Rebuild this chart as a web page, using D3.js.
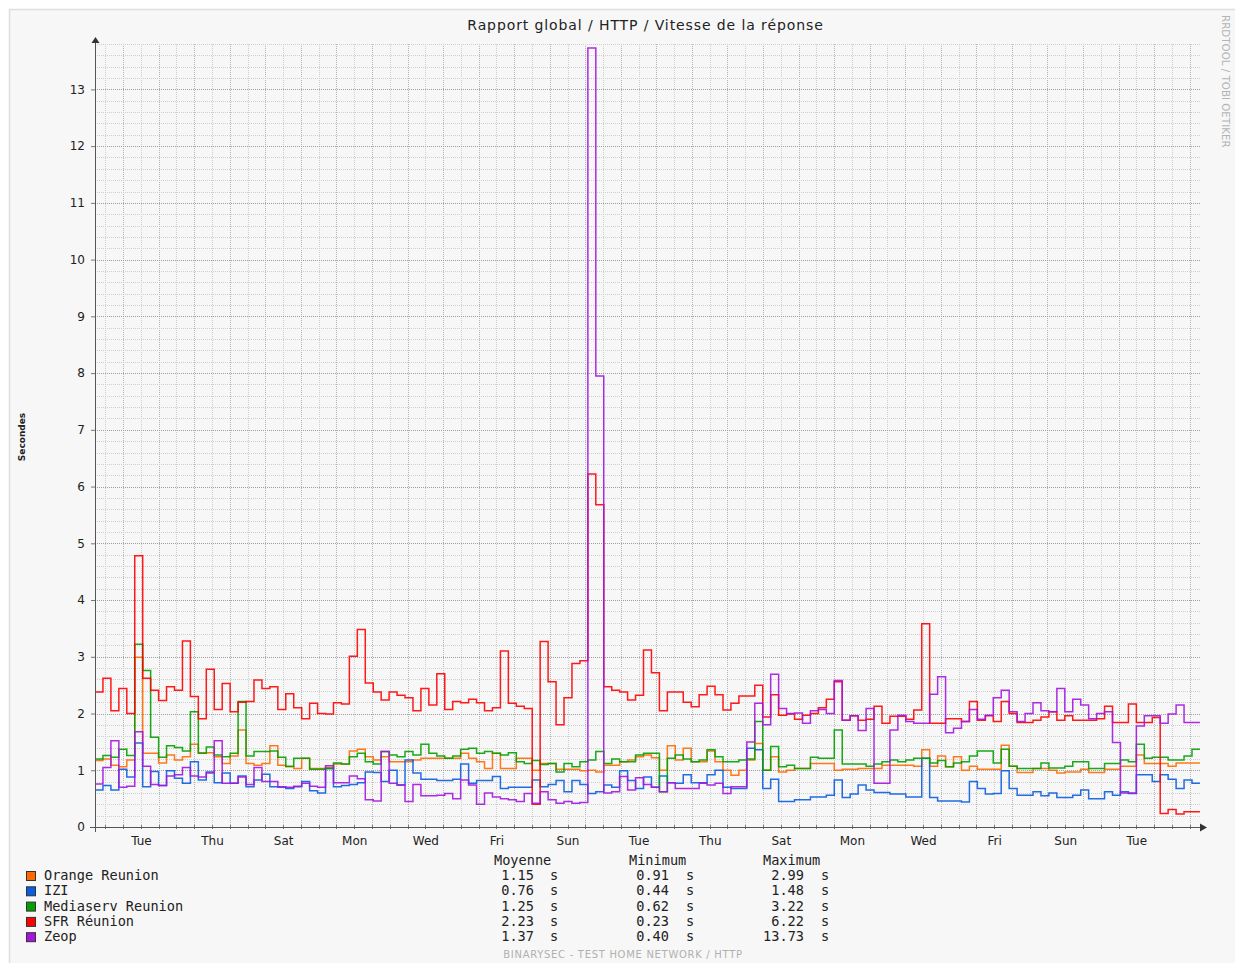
<!DOCTYPE html>
<html>
<head>
<meta charset="utf-8">
<script src="https://cdn.jsdelivr.net/npm/d3@7"></script>
<style>
  html, body { margin: 0; padding: 0; background: #fff; }
  svg { display: block; }
</style>
</head>
<body>
<div id="chart"></div>
<script>
// Valeurs (pas de 322 min à partir de startTime)
const startTime = new Date(2012, 11, 31, 5, 0);
const endTime = new Date(2013, 0, 31, 7, 0);
const stepMinutes = 322;

const seriesNames = ["Orange Reunion", "IZI", "Mediaserv Reunion", "SFR Réunion", "Zeop"];

const orange = [1.17,1.2,1.09,1.06,1.18,2.99,1.3,1.3,1.13,1.27,
  1.18,1.24,1.46,1.31,1.31,1.24,1.12,1.25,1.71,1.12,
  1.09,1.12,1.43,1.09,1.06,1.03,1.21,1.03,1.03,1.05,
  1.11,1.11,1.34,1.37,1.24,1.18,1.24,1.15,1.15,1.15,
  1.18,1.21,1.21,1.21,1.21,1.21,1.3,1.21,1.15,1.03,
  1.3,1.03,1.03,1.21,1.21,1.0,1.12,1.12,1.02,1.02,
  1.02,0.99,1.0,0.97,1.09,1.09,1.15,1.18,1.24,1.27,
  1.22,1.0,1.43,1.18,1.39,1.15,1.15,1.34,1.15,1.0,
  0.91,1.0,1.18,1.47,1.0,1.24,0.97,1.0,1.03,1.03,
  1.12,1.12,1.12,1.0,1.02,1.02,1.03,1.03,1.03,1.09,
  1.09,1.09,1.09,1.07,1.36,1.07,1.25,1.06,1.24,1.0,
  1.07,1.02,1.02,1.02,1.44,1.07,0.96,0.96,1.03,1.03,
  1.0,0.95,0.97,0.97,1.02,0.96,0.96,1.02,1.02,1.07,
  1.07,1.27,1.12,1.12,1.12,1.07,1.13,1.13,1.13];

const izi = [0.65,0.73,0.65,1.02,0.88,1.48,0.71,0.98,0.73,0.99,
  0.86,0.77,1.15,0.83,0.97,0.78,0.95,0.77,0.9,0.71,
  0.83,0.93,0.71,0.71,0.68,0.71,0.8,0.64,0.6,1.03,
  0.71,0.73,0.75,0.78,0.97,0.96,0.8,1.0,0.74,1.18,
  0.95,0.84,0.84,0.82,0.82,0.84,1.11,0.77,0.82,0.82,
  0.89,0.68,0.7,0.7,0.7,0.83,0.71,0.75,0.82,0.62,
  0.82,0.75,0.59,0.62,0.74,0.7,0.99,0.82,0.68,0.88,
  0.7,0.9,0.78,0.77,0.92,0.78,0.78,0.92,1.0,0.7,
  0.68,0.68,1.39,1.36,0.68,0.84,0.45,0.45,0.48,0.48,
  0.53,0.53,0.56,0.83,0.52,0.58,0.74,0.65,0.61,0.61,
  0.58,0.58,0.53,0.53,1.21,0.52,0.46,0.46,0.46,0.44,
  0.8,0.68,0.58,0.59,0.99,0.68,0.56,0.56,0.62,0.55,
  0.6,0.52,0.52,0.56,0.65,0.5,0.5,0.62,0.56,0.62,
  0.59,0.92,0.92,0.8,0.92,0.84,0.68,0.83,0.77];

const mediaserv = [1.2,1.26,1.23,1.37,1.26,3.22,2.76,1.58,1.23,1.43,
  1.4,1.34,2.03,1.3,1.41,1.27,1.24,1.3,2.21,1.25,
  1.33,1.33,1.34,1.23,1.07,1.21,1.21,1.02,1.02,1.03,
  1.13,1.11,1.24,1.3,1.15,1.11,1.33,1.27,1.24,1.33,
  1.27,1.46,1.3,1.25,1.21,1.25,1.37,1.39,1.3,1.33,
  1.3,1.27,1.31,1.15,1.12,1.17,1.1,1.12,0.97,1.12,
  1.06,1.15,1.18,1.33,1.12,1.2,1.15,1.15,1.27,1.3,
  1.3,0.62,1.21,1.27,1.2,1.15,1.18,1.36,1.24,1.15,
  1.15,1.18,1.2,1.86,1.0,1.42,1.06,1.09,1.03,1.03,
  1.23,1.21,1.21,1.71,1.11,1.11,1.11,1.07,1.11,1.15,
  1.18,1.15,1.18,1.21,1.21,1.13,1.17,1.06,1.13,1.15,
  1.25,1.34,1.34,1.13,1.37,1.07,1.03,1.03,1.03,1.13,
  1.04,1.04,1.07,1.15,1.15,1.03,1.03,1.12,1.12,1.18,
  1.15,1.46,1.21,1.23,1.23,1.18,1.18,1.25,1.37];

const sfr = [2.38,2.62,2.05,2.44,2.0,4.78,2.62,2.41,2.23,2.47,
  2.41,3.28,2.3,1.91,2.78,2.07,2.53,2.03,2.2,2.21,
  2.59,2.44,2.47,2.07,2.35,2.1,1.91,2.18,2.0,1.99,
  2.19,2.17,3.01,3.48,2.54,2.38,2.24,2.38,2.32,2.28,
  2.05,2.44,2.15,2.7,2.07,2.21,2.19,2.25,2.19,2.05,
  2.1,3.1,2.18,2.13,2.09,0.4,3.27,2.56,1.8,2.28,
  2.88,2.93,6.22,5.68,2.47,2.41,2.38,2.24,2.32,3.12,
  2.72,2.05,2.38,2.38,2.2,2.12,2.33,2.48,2.33,2.06,
  2.18,2.31,2.31,2.5,1.94,2.33,1.97,1.99,1.9,1.97,
  2.0,2.1,2.25,2.56,1.88,1.96,1.88,1.9,2.13,1.83,
  1.95,1.95,1.9,2.06,3.58,1.83,1.83,1.91,1.91,1.86,
  2.21,1.88,1.96,1.86,2.21,2.0,1.84,1.84,1.88,1.94,
  2.03,1.88,1.96,1.88,1.88,1.88,1.91,2.13,1.84,1.84,
  2.17,1.84,1.84,1.93,0.24,0.31,0.23,0.27,0.27];

const zeop = [0.76,1.05,1.52,0.7,0.72,1.68,1.07,0.75,0.73,0.9,
  0.92,1.05,0.9,0.88,0.95,1.52,0.77,0.77,0.88,0.75,
  1.05,0.8,0.8,0.7,0.7,0.72,0.77,0.72,0.7,1.08,
  0.78,0.78,0.9,0.85,0.48,0.46,1.33,0.77,0.74,0.45,
  0.75,0.55,0.55,0.56,0.59,0.5,0.83,0.74,0.4,0.6,
  0.53,0.5,0.48,0.45,0.59,0.42,0.62,0.48,0.42,0.45,
  0.42,0.43,13.73,7.95,0.6,0.62,0.89,0.65,0.87,0.75,
  0.7,0.62,0.78,0.68,0.68,0.68,0.77,0.74,0.77,0.59,
  0.71,0.71,1.5,2.18,1.8,2.69,2.09,2.0,2.01,1.83,
  2.05,2.07,2.0,2.58,1.88,1.96,1.7,2.09,0.77,0.77,
  1.71,1.97,1.86,1.83,1.83,2.34,2.65,1.66,1.74,1.86,
  2.07,1.9,1.97,2.28,2.41,2.03,1.86,2.0,2.19,2.05,
  2.03,2.44,2.03,2.25,2.15,1.91,2.0,2.03,1.49,0.6,
  0.6,1.78,1.96,1.96,1.83,1.99,2.15,1.84,1.84];

// Statistiques de la légende (telles qu'affichées)
const avgLabels = ["1.15", "0.76", "1.25", "2.23", "1.37"];
const minLabels = ["0.91", "0.44", "0.62", "0.23", "0.40"];
const maxLabels = ["2.99", "1.48", "3.22", "6.22", "13.73"];
const columnTitles = ["Moyenne", "Minimum", "Maximum"];

const seriesValues = [orange, izi, mediaserv, sfr, zeop];
const colors = ["#ff6a00", "#0a5ce0", "#00a000", "#ff0000", "#a415e0"];

const W = 1235, H = 963;
const plotLeft = 95, plotRight = 1200, plotTop = 44, plotBottom = 827;
const SANS = "DejaVu Sans", MONO = "DejaVu Sans Mono";

const svg = d3.select("#chart").append("svg")
  .attr("width", W)
  .attr("height", H);

// fond
svg.append("rect").attr("width", W).attr("height", H).attr("fill", "#ffffff");
svg.append("rect").attr("x", 9).attr("y", 9).attr("width", W - 9).attr("height", H - 9).attr("fill", "#f7f7f7");
svg.append("path").attr("d", `M9.5,${H}V9.5H${W}`).attr("fill", "none").attr("stroke", "#dedede").attr("stroke-width", 1.5);

const x = d3.scaleTime().domain([startTime, endTime]).range([plotLeft, plotRight]);
const y = d3.scaleLinear().domain([0, 13.8]).range([plotBottom, plotTop]);

const crisp = v => Math.round(v) + 0.5;

// grille
const grid = svg.append("g").attr("shape-rendering", "crispEdges");

const minorY = d3.range(1, 70).filter(i => i % 5 !== 0).map(i => i / 5);
const majorY = d3.range(1, 14);
const minorX = d3.timeHour.every(12).range(startTime, endTime).filter(d => d.getHours() !== 0);
const majorX = d3.timeDay.range(d3.timeDay.ceil(startTime), endTime);

grid.selectAll(".vminor").data(minorX).enter().append("line")
  .attr("x1", d => crisp(x(d))).attr("x2", d => crisp(x(d)))
  .attr("y1", plotTop).attr("y2", plotBottom)
  .attr("stroke", "#cfcfcf").attr("stroke-dasharray", "1,1");

grid.selectAll(".vmajor").data(majorX).enter().append("line")
  .attr("x1", d => crisp(x(d))).attr("x2", d => crisp(x(d)))
  .attr("y1", plotTop).attr("y2", plotBottom)
  .attr("stroke", "#b4b4b4").attr("stroke-dasharray", "1,1");

grid.selectAll(".hminor").data(minorY).enter().append("line")
  .attr("x1", plotLeft).attr("x2", plotRight)
  .attr("y1", d => crisp(y(d))).attr("y2", d => crisp(y(d)))
  .attr("stroke", "#cfcfcf").attr("stroke-dasharray", "1,1");

grid.selectAll(".hmajor").data(majorY).enter().append("line")
  .attr("x1", plotLeft).attr("x2", plotRight)
  .attr("y1", d => crisp(y(d))).attr("y2", d => crisp(y(d)))
  .attr("stroke", "#9e9e9e").attr("stroke-dasharray", "1,1");

// séries
const stepMs = stepMinutes * 60 * 1000;
const line = d3.line()
  .x(d => x(d[0]))
  .y(d => y(d[1]))
  .curve(d3.curveStepAfter);

seriesValues.forEach((vals, i) => {
  const pts = vals.map((v, k) => [new Date(+startTime + k * stepMs), v]);
  pts.push([new Date(+startTime + vals.length * stepMs), vals[vals.length - 1]]);
  svg.append("path")
    .datum(pts)
    .attr("d", line)
    .attr("fill", "none")
    .attr("stroke", colors[i])
    .attr("stroke-width", 1.5)
    .attr("stroke-opacity", 0.9);
});

// axes
const yAxis = svg.append("g")
  .attr("transform", `translate(${plotLeft},0)`)
  .call(d3.axisLeft(y).tickValues(d3.range(0, 14)).tickSize(4).tickPadding(6).tickFormat(d3.format("d")));
yAxis.select(".domain").remove();
yAxis.selectAll(".tick line").attr("stroke", "#777");
yAxis.selectAll("text").attr("font-size", 12).attr("fill", "#222")
  .attr("font-family", SANS);

const firstTue = d3.timeTuesday.ceil(startTime);
const labelDates = d3.timeDay.range(firstTue, endTime)
  .filter(d => d3.timeDay.count(firstTue, d) % 2 === 0)
  .map(d => d3.timeHour.offset(d, 12))
  .filter(d => d < endTime);

const xAxis = svg.append("g")
  .attr("transform", `translate(0,${plotBottom})`)
  .call(d3.axisBottom(x).tickValues(labelDates).tickFormat(d3.timeFormat("%a")).tickSize(0).tickPadding(9.5));
xAxis.select(".domain").remove();
xAxis.selectAll("text").attr("font-size", 12).attr("fill", "#222")
  .attr("font-family", SANS);

// petites graduations sur l'axe x
svg.append("g").attr("shape-rendering", "crispEdges")
  .selectAll("line").data(minorX.concat(majorX)).enter().append("line")
  .attr("x1", d => crisp(x(d))).attr("x2", d => crisp(x(d)))
  .attr("y1", plotBottom - 2).attr("y2", plotBottom + 2)
  .attr("stroke", "#777");

// lignes d'axe avec flèches
svg.append("line").attr("x1", plotLeft - 5).attr("x2", plotRight + 1)
  .attr("y1", plotBottom + 0.5).attr("y2", plotBottom + 0.5).attr("stroke", "#555");
svg.append("line").attr("x1", plotLeft + 0.5).attr("x2", plotLeft + 0.5)
  .attr("y1", plotBottom + 5).attr("y2", plotTop - 2).attr("stroke", "#555");
svg.append("path").attr("d", `M${plotRight},${plotBottom - 3.5}L${plotRight + 7},${plotBottom + 0.5}L${plotRight},${plotBottom + 4.5}Z`).attr("fill", "#333");
svg.append("path").attr("d", `M${plotLeft - 3.5},${plotTop - 1}L${plotLeft + 0.5},${plotTop - 7}L${plotLeft + 4.5},${plotTop - 1}Z`).attr("fill", "#333");

// titres
svg.append("text").attr("x", 645.5).attr("y", 30).attr("text-anchor", "middle")
  .attr("font-family", SANS).attr("font-size", 14).attr("letter-spacing", 0.9).attr("fill", "#222")
  .text("Rapport global / HTTP / Vitesse de la réponse");

svg.append("text").attr("transform", "translate(25,437) rotate(-90)")
  .attr("text-anchor", "middle").attr("font-family", SANS).attr("font-size", 9)
  .attr("font-weight", "bold").attr("fill", "#222")
  .text("Secondes");

svg.append("text").attr("transform", "translate(1222,15) rotate(90)")
  .attr("text-anchor", "start").attr("font-family", SANS).attr("font-size", 10.3).attr("fill", "#b4b4b4")
  .text("RRDTOOL / TOBI OETIKER");

svg.append("text").attr("x", 623).attr("y", 958).attr("text-anchor", "middle")
  .attr("font-family", SANS).attr("font-size", 10).attr("letter-spacing", 0.7).attr("fill", "#b0b0b0")
  .text("BINARYSEC - TEST HOME NETWORK / HTTP");

// légende
const legend = svg.append("g");
const rowY = i => 880 + i * 15.3;
const colX = [494, 629, 763];
const valEnd = [534, 669, 804];
const unitX = [550, 686, 821];
const statCols = [avgLabels, minLabels, maxLabels];

const monoText = (px, py, t) => legend.append("text")
  .attr("x", px).attr("y", py)
  .attr("font-family", MONO).attr("font-size", 13.6).attr("fill", "#222")
  .text(t);

columnTitles.forEach((t, c) => monoText(colX[c], 864.5, t));

seriesNames.forEach((name, i) => {
  legend.append("rect")
    .attr("x", 26.5).attr("y", rowY(i) - 8.5).attr("width", 9).attr("height", 9)
    .attr("fill", colors[i]).attr("stroke", "#333").attr("stroke-width", 1);
  monoText(44, rowY(i), name);
  statCols.forEach((col, c) => {
    monoText(valEnd[c], rowY(i), col[i]).attr("text-anchor", "end");
    monoText(unitX[c], rowY(i), "s");
  });
});
</script>
</body>
</html>
